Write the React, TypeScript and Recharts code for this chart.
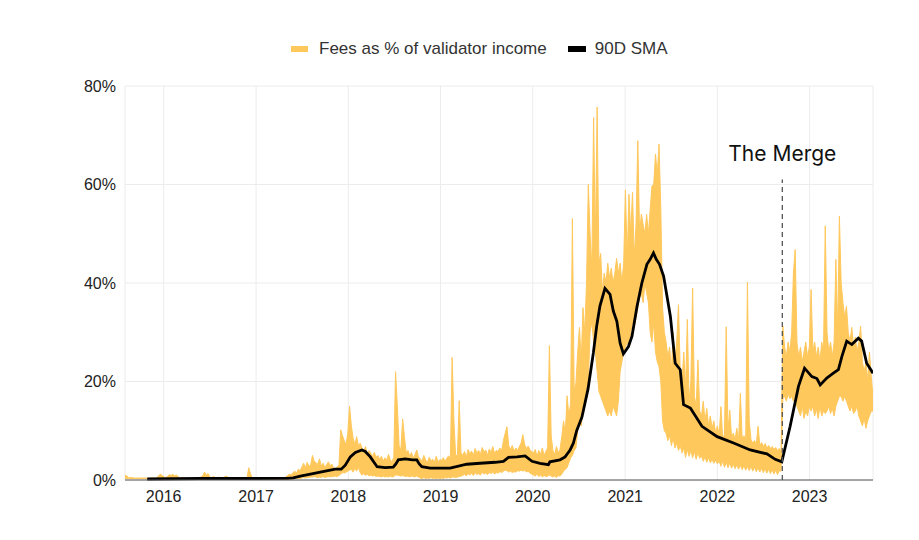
import React from 'react';
import { ComposedChart, Area, Line, XAxis, YAxis, CartesianGrid, ReferenceLine } from 'recharts';

document.body.style.margin = '0';

const DAY = 86400000;
const WEEK = 7 * DAY;
// weekly samples of the daily series, first week starting 2015-08-01
const FIRST_WEEK = Date.UTC(2015, 7, 1);
const X_START = Date.UTC(2015, 7, 1);
const X_END = Date.UTC(2023, 8, 9);
const MERGE = Date.UTC(2022, 8, 15);

const years = [2016, 2017, 2018, 2019, 2020, 2021, 2022, 2023];
const percentTicks = [0, 20, 40, 60, 80];

// weekly low / high of "Fees as % of validator income"
const feeLow = [
  // 2015
  0.3, 0.3, 0.3, 0.3, 0.3, 0.3, 0.3, 0.3, 0.3, 0.3, 0.3, 0.3, 0.3, 0.1, 0.1, 0.1, 0.1, 0.1, 0.1, 0.1, 0.1, 0.1,
  // 2016
  0.1, 0.1, 0.1, 0.1, 0.1, 0.1, 0.1, 0.1, 0.1, 0.1, 0.1, 0.1, 0.1, 0.1, 0.1, 0.1, 0.1, 0.1, 0.1, 0.1, 0.1, 0.1, 0.1, 0.1, 0.1, 0.1,
  0.1, 0.1, 0.1, 0.1, 0.1, 0.1, 0.1, 0.1, 0.1, 0.1, 0.1, 0.1, 0.1, 0.1, 0.1, 0.1, 0.1, 0.1, 0.1, 0.1, 0.1, 0.1, 0.1, 0.1, 0.1, 0.1,
  // 2017
  0.1, 0.1, 0.1, 0.1, 0.1, 0.1, 0.1, 0.1, 0.1, 0.1, 0.1, 0.1, 0.1, 0.1, 0.1, 0.1, 0.1,
  0.1, 0.1, 0.2, 0.2, 0.2, 0.3, 0.3, 0.3, 0.3,
  0.4, 0.5, 0.4, 0.5, 0.5, 0.6, 0.6, 0.7, 0.6,
  0.5, 0.6, 0.5, 0.7, 0.5, 0.6, 0.7, 0.6, 0.7,
  0.7, 0.8, 0.7, 0.9, 1.2, 1.5, 1.4, 1.6, 1.8,
  // 2018
  2.0, 2.2, 1.6, 2.4, 1.8, 2.6, 1.5,
  1.0, 1.3, 0.9, 1.2, 0.8, 1.0, 0.8, 0.9, 0.7, 0.8,
  0.7, 0.6, 0.8, 0.6, 0.7, 0.6, 0.8, 0.6, 0.7,
  1.0, 1.0, 0.9, 0.8, 0.9, 0.8,
  0.7, 0.8, 0.6, 0.8, 0.7, 0.6, 0.8, 0.6,
  0.4, 0.3, 0.5, 0.3, 0.4, 0.3, 0.5, 0.3, 0.4, 0.3, 0.4, 0.3,
  // 2019
  0.4, 0.3, 0.5, 0.4, 0.5, 0.4, 0.6, 0.6, 0.5, 0.6, 0.7, 0.8,
  0.9, 1.2, 0.8, 1.3, 1.0, 1.4, 0.9, 1.5, 1.1, 1.3, 1.0, 1.6, 1.2, 1.4, 1.1, 1.5, 1.3, 1.6, 1.2, 1.5, 1.4, 1.7, 1.5,
  1.8, 2.0, 1.9, 1.6, 1.8, 1.5, 1.7, 1.6, 1.9, 1.8, 2.0,
  1.8, 2.0, 1.6, 1.8, 1.4, 1.2,
  // 2020
  1.0, 0.8, 1.2, 0.7, 1.0, 0.6, 0.9, 0.7, 0.8, 1.0, 0.8,
  0.6, 0.8, 0.5, 0.9, 0.8, 1.2, 1.8, 2.2,
  2.5, 3.5, 4.5, 5.0, 6.0, 6.5, 10, 12, 11, 14,
  15, 18, 20, 30, 32, 28, 26, 22, 18, 17, 16, 15, 14, 13, 14, 13, 15, 14, 13, 16, 22, 24, 26,
  // 2021
  27, 28, 27, 30, 32, 31, 33, 35, 37, 38, 36, 40, 38, 36, 30, 28, 32, 26, 24, 23,
  20, 12, 10, 9.5, 8.0, 9.0, 7.0, 8.5, 6.5, 7.5, 6.0, 7.0, 5.5,
  6.5, 4.6, 6.2, 4.8, 6.0, 4.5, 5.8, 4.2, 5.6, 4.4, 4.9, 3.8, 4.7, 3.6, 4.5, 3.5, 4.2, 3.4, 4.0, 3.3,
  // 2022
  3.8, 2.8, 3.9, 2.6, 3.6, 2.5, 3.5, 2.4, 3.2, 2.3, 3.1, 2.2, 3.0, 2.1, 2.9, 2.0, 2.8, 1.9,
  2.8, 1.8, 2.6, 1.7, 2.5, 1.6, 2.4, 1.5, 2.3, 1.4, 2.2, 1.3, 2.1, 1.2, 2.0, 1.1, 1.9, 1.8,
  16.5, 17, 16, 17.5, 16.5, 17, 16, 17, 15, 14, 13, 15, 12.5, 14, 13, 15,
  // 2023
  14, 15, 13, 14.5, 12.5, 15, 13, 14, 13.5, 14, 15, 13.5, 14.5, 13, 15, 16, 17, 17,
  16, 17, 16, 15, 14, 15, 13.5, 14, 15, 13, 12, 11, 12.5, 10.5, 12, 13, 14, 14,
];

const feeHigh = [
  // 2015
  1.0, 0.8, 0.5, 0.5, 0.5, 0.4, 0.4, 0.4, 0.4, 0.4, 0.4, 0.4, 0.4, 0.3, 0.3, 0.4, 0.4, 0.3, 0.5, 0.8, 1.2, 0.9,
  // 2016
  0.6, 0.5, 0.7, 1.1, 0.9, 1.2, 0.8, 1.0, 0.7, 0.4, 0.5, 0.4, 0.3, 0.4, 0.3, 0.3, 0.4, 0.3, 0.3,
  0.4, 0.5, 0.6, 0.9, 1.6, 1.0, 1.3, 0.6, 0.5, 0.7, 0.5, 0.4, 0.6, 0.5, 0.4,
  0.5, 0.8, 0.6, 0.5, 0.4, 0.4, 0.5, 0.4, 0.3, 0.4, 0.5, 0.4, 0.3, 0.4, 2.5, 1.2, 0.4, 0.3,
  // 2017
  0.3, 0.4, 0.3, 0.3, 0.4, 0.3, 0.3, 0.4, 0.3, 0.3, 0.4, 0.3, 0.4, 0.3, 0.4, 0.5, 0.4,
  0.6, 0.9, 1.2, 1.0, 1.5, 1.8, 1.4, 2.2, 1.9,
  2.6, 3.4, 2.4, 3.6, 2.8, 3.0, 5.0, 3.8, 3.5,
  3.2, 4.3, 2.8, 3.4, 2.6, 3.1, 3.7, 2.9, 3.2,
  2.5, 2.3, 2.7, 3.0, 10.2, 9.0, 8.0, 7.2, 9.5,
  // 2018
  15.0, 11.0, 8.5, 7.2, 8.8, 6.9, 7.5,
  6.5, 5.8, 6.8, 5.2, 6.0, 5.4, 4.8, 5.6, 4.6, 5.0,
  4.2, 4.8, 3.8, 4.5, 4.0, 5.2, 4.1, 3.7, 4.6,
  22.0, 15.0, 7.0, 6.0, 12.4, 8.8,
  5.5, 6.0, 4.8, 5.6, 4.4, 5.2, 6.1, 4.6,
  4.3, 3.8, 5.0, 4.1, 3.5, 4.6, 3.9, 4.2, 3.6, 4.8, 3.7, 4.1,
  // 2019
  4.0, 4.5, 3.8, 4.4, 4.9, 4.3, 24.9, 12.0, 4.8, 5.2, 16.1, 5.5,
  5.0, 5.8, 4.6, 6.2, 5.3, 5.9, 4.9, 6.4, 5.5, 6.0, 5.2, 6.6, 5.7, 6.1, 5.0, 6.3, 5.6, 6.8, 5.4, 6.0, 5.8, 6.5, 5.9,
  8.0, 9.5, 10.8, 7.0, 6.2, 7.0, 5.8, 6.5, 6.0, 6.8, 7.5,
  9.2, 7.2, 6.4, 6.9, 6.1, 5.8,
  // 2020
  5.5, 6.2, 4.8, 6.0, 5.2, 6.5, 5.0, 5.8, 6.5, 27.3, 9.0,
  6.0, 5.2, 6.8, 5.5, 6.2, 8.8, 12.0, 9.5,
  17.1, 13.0, 15.5, 53.1, 18.0, 19.7, 26, 31, 24, 35,
  30, 40, 60, 50, 43, 73.6, 48, 75.7, 44, 46, 38, 42, 40, 44, 41, 43, 40, 42, 45, 42, 44, 40, 44,
  // 2021
  58.9, 45, 58, 50, 58.4, 45, 52, 68.9, 50, 54, 51.9, 50, 53.9, 50, 55, 59.7, 60, 66.2, 62, 68.2,
  55, 35, 30, 28, 25, 27, 22, 30, 24, 28, 35.6, 22, 20,
  26, 18, 32.6, 16, 20, 39, 17, 15, 24.4, 14, 13, 16, 12, 14.5, 11, 13, 10.5, 12, 9.5, 11,
  // 2022
  9.0, 14.9, 8.5, 9.2, 31.1, 10.0, 14.2, 8.8, 9.5, 8.2, 10.5, 8.0, 17.6, 8.5, 9.0, 8.0, 40.2, 12.0,
  8.2, 7.5, 8.0, 7.2, 10.9, 7.0, 7.6, 6.8, 7.4, 6.5, 7.0, 6.4, 6.8, 6.2, 6.6, 6.0, 6.4, 5.8,
  31.3, 27, 25, 28, 26, 30, 42, 46.8, 28, 25, 27, 24, 26, 28, 25, 27,
  // 2023
  38.7, 26, 28, 25, 27, 24, 28, 26, 51.6, 30, 26, 28, 25, 28, 44.8, 30, 53.6, 40,
  36, 33, 35.3, 30, 28, 31, 27, 29, 26, 28, 31.2, 24, 22, 24, 20, 26, 21, 17,
];

// 90-day simple moving average
const smaDates = [
  '2015-10-28', '2016-05-25', '2017-01-02', '2017-05-05', '2017-05-28', '2017-06-25', '2017-08-04',
  '2017-09-12', '2017-10-22', '2017-11-10', '2017-12-04', '2017-12-20', '2018-01-09', '2018-01-29',
  '2018-02-24', '2018-03-09', '2018-03-29', '2018-04-14', '2018-04-25', '2018-05-27', '2018-06-28',
  '2018-07-09', '2018-07-18', '2018-08-14', '2018-09-11', '2018-09-29', '2018-10-08', '2018-10-19',
  '2018-11-21', '2019-02-08', '2019-04-15', '2019-06-07', '2019-08-05', '2019-09-07', '2019-09-27',
  '2019-10-31', '2019-12-02', '2019-12-29', '2020-01-30', '2020-03-03', '2020-03-09', '2020-04-18',
  '2020-05-08', '2020-05-28', '2020-06-10', '2020-06-23', '2020-07-14', '2020-08-07', '2020-08-28',
  '2020-09-10', '2020-09-23', '2020-10-13', '2020-11-02', '2020-11-15', '2020-11-29', '2020-12-12',
  '2020-12-25', '2021-01-14', '2021-01-28', '2021-02-17', '2021-03-08', '2021-03-28', '2021-04-10',
  '2021-04-23', '2021-05-04', '2021-05-17', '2021-06-02', '2021-06-29', '2021-07-18', '2021-08-07',
  '2021-08-20', '2021-09-16', '2021-11-01', '2021-12-31', '2022-03-06', '2022-05-11', '2022-07-16',
  '2022-08-18', '2022-09-13', '2022-10-16', '2022-11-18', '2022-12-12', '2023-01-10', '2023-01-30',
  '2023-02-12', '2023-03-10', '2023-04-05', '2023-04-25', '2023-05-09', '2023-05-28', '2023-06-17',
  '2023-07-13', '2023-07-26', '2023-08-15', '2023-09-09',
];
const smaValues = [
  0.2, 0.3, 0.3, 0.35, 0.45, 0.8, 1.2,
  1.6, 2.0, 2.2, 2.2, 3.0, 4.7, 5.6,
  6.1, 5.8, 4.7, 3.5, 2.7, 2.5, 2.6,
  3.3, 4.1, 4.3, 4.1, 4.1, 3.3, 2.7,
  2.4, 2.4, 3.2, 3.4, 3.6, 3.8, 4.6,
  4.7, 4.9, 3.8, 3.4, 3.1, 3.7, 4.1,
  4.7, 6.1, 7.5, 10.0, 12.8, 18.5, 25.8,
  31.2, 35.3, 38.9, 37.7, 34.3, 32.2, 27.8,
  25.6, 27.1, 29.2, 35.3, 40.0, 43.8, 44.8,
  46.1, 44.8, 43.8, 41.4, 33.2, 23.7, 22.4,
  15.3, 14.6, 10.9, 8.8, 7.5, 6.1, 5.3,
  4.2, 3.7, 10.9, 19.0, 22.7, 21.0, 20.6,
  19.3, 20.7, 21.7, 22.4, 25.1, 28.2, 27.5,
  28.8, 28.2, 23.7, 21.7,
];

const FEE_COLOR = '#ffc85c';
const AXIS_FONT = '"Liberation Sans", Arial, sans-serif';

const feeData = feeHigh.map((hi, i) => ({ t: FIRST_WEEK + i * WEEK, fee: [feeLow[i], hi] }));
const smaData = smaDates.map((d, i) => ({ t: Date.parse(d), sma: smaValues[i] }));
const yearTicks = years.map(y => Date.UTC(y, 0, 1));

export default function App() {
  return (
    <div style={{ position: 'relative', width: 919, height: 540, background: '#fff', fontFamily: AXIS_FONT }}>
      {/* legend */}
      <div
        style={{
          position: 'absolute',
          top: 38,
          left: 291,
          height: 22,
          display: 'flex',
          alignItems: 'center',
          fontSize: 17,
          color: '#333',
          zIndex: 2,
        }}
      >
        <span style={{ width: 17, height: 6, background: FEE_COLOR, marginRight: 11 }} />
        <span>Fees as % of validator income</span>
        <span style={{ width: 18, height: 6, background: '#000', marginLeft: 21, marginRight: 9 }} />
        <span>90D SMA</span>
      </div>
      <ComposedChart
        width={919}
        height={540}
        data={feeData}
        margin={{ top: 86, right: 46, bottom: 30, left: 65 }}
      >
        <CartesianGrid stroke="#ececec" strokeWidth={1} />
        <XAxis
          dataKey="t"
          type="number"
          domain={[X_START, X_END]}
          ticks={yearTicks}
          tickFormatter={v => String(new Date(v).getUTCFullYear())}
          allowDataOverflow
          height={30}
          axisLine={{ stroke: '#555', strokeWidth: 1.2 }}
          tickLine={false}
          tickSize={0}
          tickMargin={11}
          tick={{ fill: '#222', fontSize: 16, fontFamily: AXIS_FONT }}
        />
        <YAxis
          domain={[0, 80]}
          ticks={percentTicks}
          tickFormatter={v => `${v}%`}
          width={60}
          axisLine={false}
          tickLine={false}
          tickSize={0}
          tickMargin={9}
          tick={{ fill: '#222', fontSize: 16, fontFamily: AXIS_FONT }}
        />
        <Area
          dataKey="fee"
          type="linear"
          stroke={FEE_COLOR}
          strokeWidth={1}
          fill={FEE_COLOR}
          fillOpacity={1}
          dot={false}
          activeDot={false}
          isAnimationActive={false}
        />
        <Line
          data={smaData}
          dataKey="sma"
          type="linear"
          stroke="#000"
          strokeWidth={2.8}
          dot={false}
          activeDot={false}
          isAnimationActive={false}
        />
        <ReferenceLine
          segment={[{ x: MERGE, y: 0 }, { x: MERGE, y: 61 }]}
          stroke="#555"
          strokeWidth={1.3}
          strokeDasharray="5 4"
          label={{ value: 'The Merge', position: 'top', offset: 19, fill: '#111', fontSize: 21, fontFamily: 'Inter' }}
        />
      </ComposedChart>
    </div>
  );
}
